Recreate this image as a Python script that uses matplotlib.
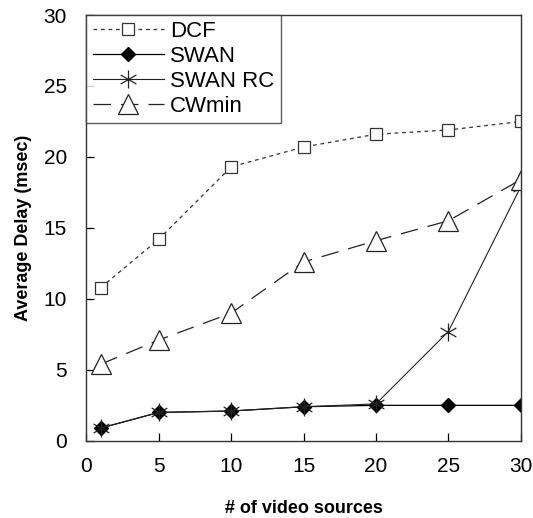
import matplotlib.pyplot as plt
from matplotlib.path import Path

plt.rcParams["font.family"] = ["Liberation Sans", "DejaVu Sans"]

sources = [1, 5, 10, 15, 20, 25, 30]
dcf = [10.8, 14.2, 19.3, 20.7, 21.6, 21.9, 22.5]
swan = [0.9, 2.0, 2.1, 2.4, 2.5, 2.5, 2.5]
swan_rc = [0.9, 2.0, 2.1, 2.4, 2.6, 7.7, 17.9]
cwmin = [5.4, 7.1, 9.0, 12.6, 14.1, 15.5, 18.4]

# six-armed asterisk marker (vertical stroke plus an x)
asterisk = Path(
    [(0, -1), (0, 1), (-0.87, -0.5), (0.87, 0.5), (-0.87, 0.5), (0.87, -0.5)],
    [Path.MOVETO, Path.LINETO, Path.MOVETO, Path.LINETO, Path.MOVETO, Path.LINETO],
)

fig = plt.figure(figsize=(5.33, 5.18), dpi=100)
ax = fig.add_axes([0.162, 0.149, 0.815, 0.822])

ax.plot(sources, dcf, color="#333333", lw=0.9, linestyle=(0, (3, 3)),
        marker="s", markersize=8, markerfacecolor="white",
        markeredgecolor="#333333", markeredgewidth=0.9, label="DCF")
ax.plot(sources, swan, color="black", lw=0.9, marker="D", markersize=7,
        markerfacecolor="black", label="SWAN")
ax.plot(sources, swan_rc, color="#222222", lw=0.8, marker=asterisk,
        markersize=13, markerfacecolor="none", markeredgecolor="#222222",
        markeredgewidth=0.9, label="SWAN RC")
ax.plot(sources, cwmin, color="#222222", lw=0.9, linestyle=(0, (14, 8)),
        marker="^", markersize=14, markerfacecolor="white",
        markeredgecolor="#222222", markeredgewidth=0.9, label="CWmin")

ax.set_xlim(0, 30)
ax.set_ylim(0, 30)
ax.set_xticks(range(0, 31, 5))
ax.set_yticks(range(0, 31, 5))
ax.tick_params(direction="in", length=6, width=0.9, labelsize=15)
ax.tick_params(axis="y", pad=14)
ax.tick_params(axis="x", pad=12)
for side in ax.spines.values():
    side.set_linewidth(1.0)
    side.set_color("#333333")

ax.set_xlabel("# of video sources", fontsize=13, fontweight="bold", labelpad=17)
ax.set_ylabel("Average Delay (msec)", fontsize=13, fontweight="bold", labelpad=8)

leg = ax.legend(loc="upper left", fontsize=16, frameon=True, fancybox=False,
                handlelength=3.2, handletextpad=0.3, borderaxespad=0,
                labelspacing=0.18, borderpad=0.28, edgecolor="#333333")
leg.get_frame().set_linewidth(1.0)

fig.savefig("out.png", dpi=100)
